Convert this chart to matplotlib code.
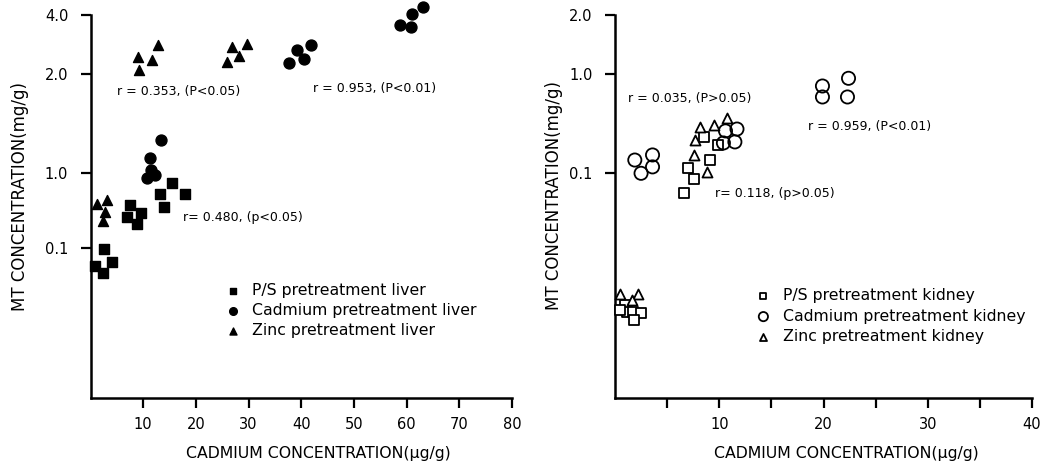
import numpy as np
import matplotlib
matplotlib.use("Agg")
import matplotlib.pyplot as plt

# ---------------- data ----------------
# Liver panel
ps_liver_x = [7.5, 6.9, 9.6, 8.9, 13.2, 15.5, 13.9, 18.0, 2.6, 4.1, 0.85, 2.4]
ps_liver_y = [0.374, 0.256, 0.290, 0.207, 0.525, 0.743, 0.349, 0.525, 0.096, 0.066, 0.058, 0.046]
cd_liver_x = [10.7, 11.3, 12.2, 13.4, 11.5, 37.7, 39.2, 40.6, 41.8, 58.7, 60.9, 61.1, 63.2]
cd_liver_y = [0.85, 1.11, 0.94, 1.26, 1.02, 2.27, 2.65, 2.39, 2.80, 3.56, 3.49, 4.04, 4.38]
zn_liver_x = [1.2, 3.1, 2.8, 2.3, 9.1, 9.3, 11.7, 12.8, 25.9, 26.9, 28.2, 29.7]
zn_liver_y = [0.386, 0.437, 0.305, 0.231, 2.43, 2.10, 2.36, 2.81, 2.31, 2.76, 2.48, 2.85]

# Kidney panel
ps_kid_x = [8.5, 7.0, 6.6, 7.6, 9.1, 9.9, 1.0, 1.15, 1.7, 2.5, 1.8, 0.5]
ps_kid_y = [0.232, 0.113, 0.063, 0.088, 0.136, 0.193, 0.0047, 0.0040, 0.0040, 0.0039, 0.0033, 0.0042]
cd_kid_x = [1.9, 2.5, 3.6, 3.6, 10.6, 11.7, 10.4, 11.5, 19.9, 22.4, 19.9, 22.3]
cd_kid_y = [0.136, 0.100, 0.153, 0.116, 0.267, 0.279, 0.202, 0.207, 0.757, 0.905, 0.587, 0.587]
zn_kid_x = [8.2, 9.5, 10.7, 7.7, 7.6, 8.8, 0.5, 2.2, 1.6]
zn_kid_y = [0.292, 0.306, 0.361, 0.216, 0.153, 0.103, 0.0061, 0.0061, 0.0053]

liver_labels = ["P/S pretreatment liver", "Cadmium pretreatment liver", "Zinc pretreatment liver"]
kidney_labels = ["P/S pretreatment kidney", "Cadmium pretreatment kidney", "Zinc pretreatment kidney"]

liver_notes = ["r = 0.353, (P<0.05)", "r = 0.953, (P<0.01)", "r= 0.480, (p<0.05)"]
kidney_notes = ["r = 0.035, (P>0.05)", "r = 0.959, (P<0.01)", "r= 0.118, (p>0.05)"]

liver_yticks = [0.1, 1.0, 2.0, 4.0]
kidney_yticks = [0.1, 1.0, 2.0]
liver_xticks = [10, 20, 30, 40, 50, 60, 70, 80]
kidney_xticks = [10, 20, 30, 40]
kidney_xminor = [5, 15, 25, 35]

xlabel = "CADMIUM CONCENTRATION(\u03bcg/g)"
ylabel = "MT CONCENTRATION(mg/g)"


# ---------------- custom (hand-drawn) y scale ----------------
def pw(x, xs, ys):
    x = np.asarray(x, float)
    xs = np.asarray(xs, float)
    ys = np.asarray(ys, float)
    y = np.interp(x, xs, ys)
    lo = x < xs[0]
    hi = x > xs[-1]
    y = np.where(lo, ys[0] + (x - xs[0]) * (ys[1] - ys[0]) / (xs[1] - xs[0]), y)
    y = np.where(hi, ys[-1] + (x - xs[-1]) * (ys[-1] - ys[-2]) / (xs[-1] - xs[-2]), y)
    return y


def make_scale(knot_vals, knot_pos):
    lk = np.log10(np.asarray(knot_vals, float))
    def fwd(v):
        v = np.asarray(v, float)
        return pw(np.log10(np.clip(v, 1e-9, None)), lk, knot_pos)
    def inv(h):
        return 10 ** pw(np.asarray(h, float), knot_pos, lk)
    return fwd, inv


plt.rcParams["font.family"] = ["DejaVu Sans"]
fig = plt.figure(figsize=(10.45, 4.71), dpi=100)
W, H = 1045.0, 471.0

ax1 = fig.add_axes([90.5 / W, (H - 398) / H, 421.5 / W, 383 / H])
ax2 = fig.add_axes([615 / W, (H - 398) / H, 417 / W, 383 / H])

liver_scale = make_scale([0.1, 1.0, 2.0, 4.0], [150, 225, 324, 383])
kidney_scale = make_scale([0.1, 1.0, 2.0], [224.7, 324, 383])

ax1.set_yscale("function", functions=liver_scale)
ax2.set_yscale("function", functions=kidney_scale)

ms = dict(clip_on=False, zorder=3)
ax1.scatter(ps_liver_x, ps_liver_y, marker="s", s=50, c="black", label=liver_labels[0], **ms)
ax1.scatter(cd_liver_x, cd_liver_y, marker="o", s=62, c="black", label=liver_labels[1], **ms)
ax1.scatter(zn_liver_x, zn_liver_y, marker="^", s=52, c="black", label=liver_labels[2], **ms)

ax2.scatter(ps_kid_x, ps_kid_y, marker="s", s=50, facecolors="white", edgecolors="black",
            linewidths=1.3, label=kidney_labels[0], **ms)
ax2.scatter(cd_kid_x, cd_kid_y, marker="o", s=90, facecolors="none", edgecolors="black",
            linewidths=1.3, label=kidney_labels[1], **ms)
ax2.scatter(zn_kid_x, zn_kid_y, marker="^", s=52, facecolors="white", edgecolors="black",
            linewidths=1.3, label=kidney_labels[2], **ms)

ax1.set_xlim(0, 80)
ax1.set_ylim(0.001, 4.0)
ax2.set_xlim(0, 40)
ax2.set_ylim(10 ** -3.263, 2.0)

for ax in (ax1, ax2):
    for s in ("top", "right"):
        ax.spines[s].set_visible(False)
    for s in ("left", "bottom"):
        ax.spines[s].set_linewidth(1.8)
    ax.tick_params(axis="both", which="both", direction="out", length=7, width=1.6,
                   labelsize=10.5)
    ax.tick_params(axis="x", pad=7)
    ax.tick_params(axis="y", pad=9)
    ax.minorticks_off()

ax1.set_xticks(liver_xticks)
ax1.set_xticklabels([str(t) for t in liver_xticks])
ax1.set_yticks(liver_yticks)
ax1.set_yticklabels(["%.1f" % t for t in liver_yticks])

ax2.set_xticks(kidney_xticks)
ax2.set_xticklabels([str(t) for t in kidney_xticks])
ax2.set_xticks(kidney_xminor, minor=True)
ax2.tick_params(axis="x", which="minor", length=7, width=1.6)
ax2.set_yticks(kidney_yticks)
ax2.set_yticklabels(["%.1f" % t for t in kidney_yticks])

# axis labels
ax1.set_xlabel(xlabel, fontsize=11.3)
ax1.xaxis.set_label_coords(0.54, -0.125)
ax1.set_ylabel(ylabel, fontsize=12)
ax1.yaxis.set_label_coords(-0.145, 0.525)
ax2.set_xlabel(xlabel, fontsize=11.3)
ax2.xaxis.set_label_coords(0.554, -0.125)
ax2.set_ylabel(ylabel, fontsize=12)
ax2.yaxis.set_label_coords(-0.125, 0.53)

# correlation notes
note_kw = dict(fontsize=9, va="center", ha="left")
ax1.text(0.063, 0.799, liver_notes[0], transform=ax1.transAxes, **note_kw)
ax1.text(0.528, 0.809, liver_notes[1], transform=ax1.transAxes, **note_kw)
ax1.text(0.219, 0.470, liver_notes[2], transform=ax1.transAxes, **note_kw)
ax2.text(0.031, 0.781, kidney_notes[0], transform=ax2.transAxes, **note_kw)
ax2.text(0.463, 0.708, kidney_notes[1], transform=ax2.transAxes, **note_kw)
ax2.text(0.240, 0.535, kidney_notes[2], transform=ax2.transAxes, **note_kw)

leg_kw = dict(loc="upper left", frameon=False, fontsize=11.3, handlelength=1.0,
              handletextpad=0.74, borderpad=0, borderaxespad=0, markerscale=0.7)
ax1.legend(bbox_to_anchor=(0.319, 0.300), labelspacing=0.33, **leg_kw)
ax2.legend(bbox_to_anchor=(0.337, 0.287), labelspacing=0.36, **leg_kw)

fig.savefig("out.png", dpi=100)
